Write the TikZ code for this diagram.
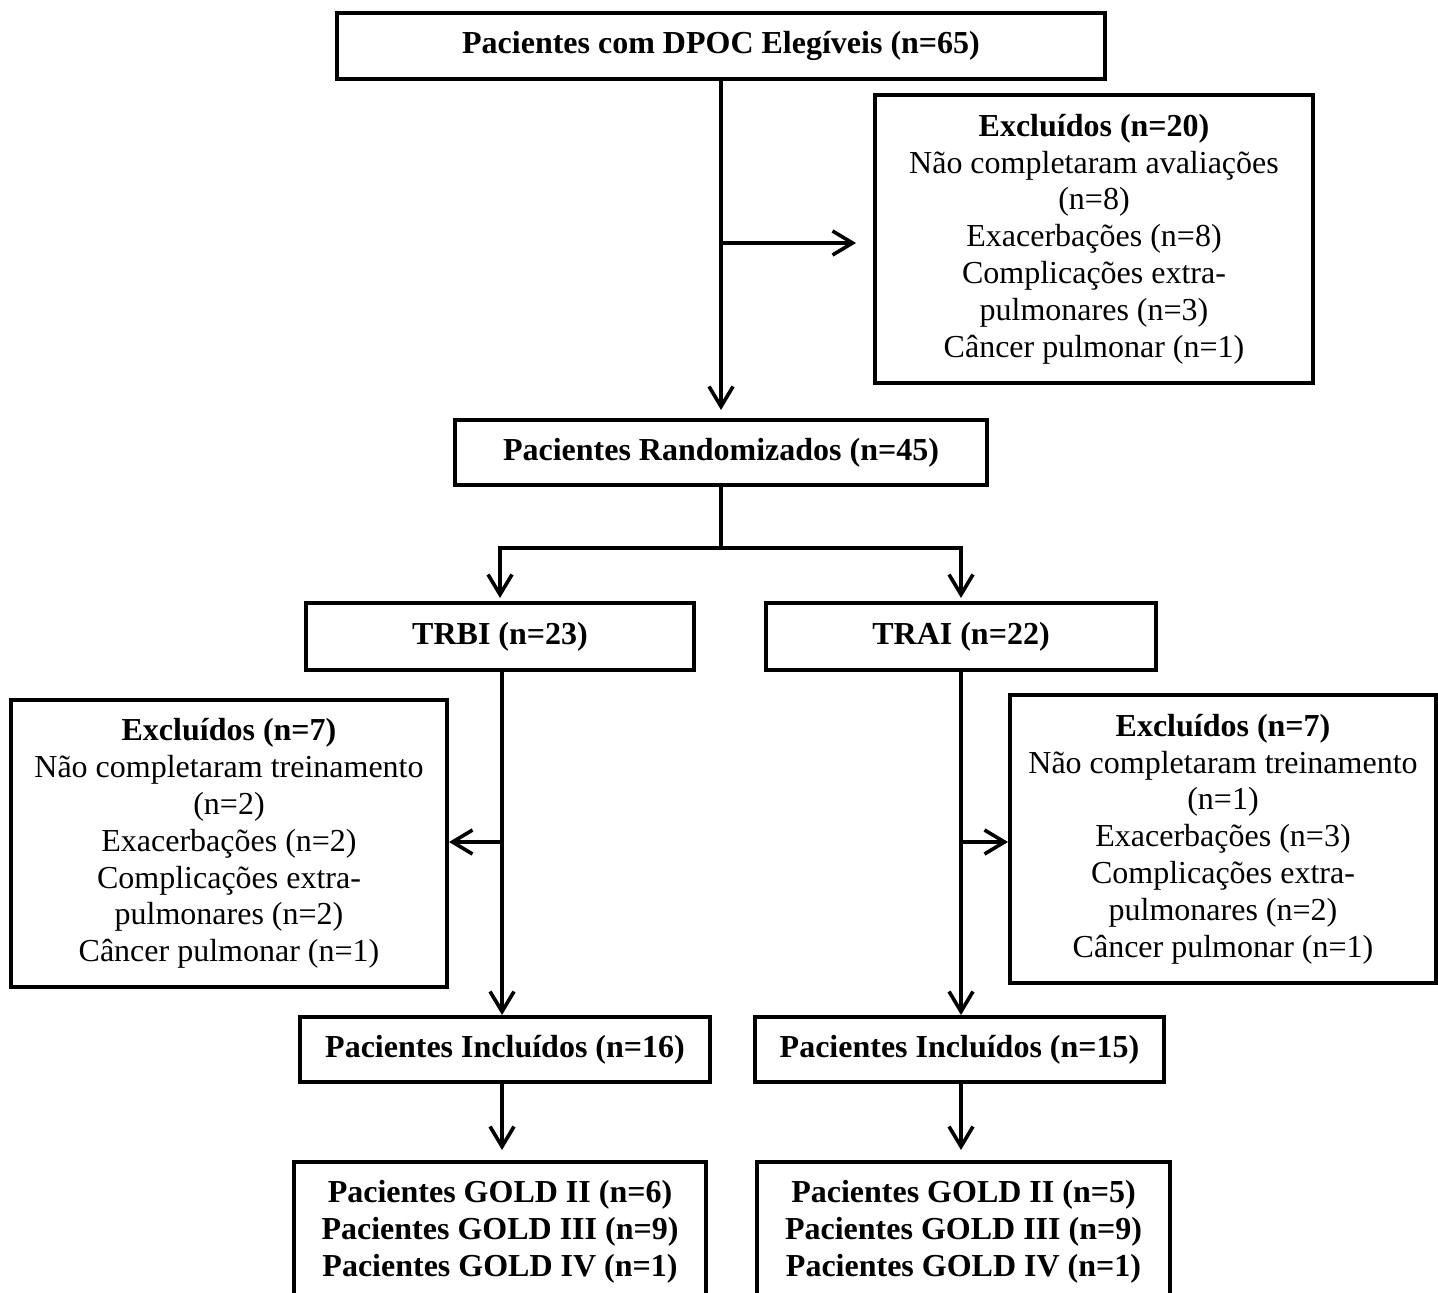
\documentclass[tikz,border=0pt]{standalone}
\usepackage{fontspec}
\setmainfont{Liberation Serif}
\usetikzlibrary{arrows.meta}

\tikzset{
  box/.style={draw, line width=2pt, inner sep=0pt, align=center,
              font=\fontsize{16}{18.4}\selectfont},
  bbox/.style={box, font=\fontsize{16}{18.4}\selectfont\bfseries},
  arr/.style={line width=1.8pt, -{Straight Barb[length=10pt,width=12pt]}},
  link/.style={line width=1.8pt}
}

\begin{document}
\begin{tikzpicture}[x=0.5pt,y=-0.5pt]
  \useasboundingbox (0,0) rectangle (1438,1293);
  \clip (0,0) rectangle (1438,1293);

  % boxes
  \node[bbox, minimum width=384pt, minimum height=33pt] (top) at (721,46)
    {Pacientes com DPOC Elegíveis (n=65)};
  \node[box, minimum width=219pt, minimum height=144pt] (ex1) at (1094,239)
    {\textbf{Excluídos (n=20)}\\Não completaram avaliações\\(n=8)\\Exacerbações (n=8)\\Complicações extra-\\pulmonares (n=3)\\Câncer pulmonar (n=1)};
  \node[bbox, minimum width=266pt, minimum height=32.5pt] (rand) at (721,452.5)
    {Pacientes Randomizados (n=45)};
  \node[bbox, minimum width=194pt, minimum height=33.5pt] (trbi) at (500,636.5)
    {TRBI (n=23)};
  \node[bbox, minimum width=195pt, minimum height=33.5pt] (trai) at (961,636.5)
    {TRAI (n=22)};
  \node[box, minimum width=218pt, minimum height=143.5pt] (ex2) at (229,843.5)
    {\textbf{Excluídos (n=7)}\\Não completaram treinamento\\(n=2)\\Exacerbações (n=2)\\Complicações extra-\\pulmonares (n=2)\\Câncer pulmonar (n=1)};
  \node[box, minimum width=213pt, minimum height=144pt] (ex3) at (1223,839)
    {\textbf{Excluídos (n=7)}\\Não completaram treinamento\\(n=1)\\Exacerbações (n=3)\\Complicações extra-\\pulmonares (n=2)\\Câncer pulmonar (n=1)};
  \node[bbox, minimum width=205pt, minimum height=32.5pt] (inc1) at (505,1049.5)
    {Pacientes Incluídos (n=16)};
  \node[bbox, minimum width=204.5pt, minimum height=32.5pt] (inc2) at (959.5,1049.5)
    {Pacientes Incluídos (n=15)};
  \node[bbox, minimum width=206pt, minimum height=70pt] (gold1) at (500,1232)
    {Pacientes GOLD II (n=6)\\Pacientes GOLD III (n=9)\\Pacientes GOLD IV (n=1)};
  \node[bbox, minimum width=206.5pt, minimum height=70pt] (gold2) at (963.5,1232)
    {Pacientes GOLD II (n=5)\\Pacientes GOLD III (n=9)\\Pacientes GOLD IV (n=1)};

  % junction points
  \coordinate (j1) at (721,243);
  \coordinate (j2) at (721,548);
  \coordinate (j3) at (502,842);
  \coordinate (j4) at (961,842);

  % connectors
  \draw[arr, shorten >=4pt] (top.south -| j1) -- (rand.north -| j1);
  \draw[arr, shorten >=8.5pt] (j1) -- (j1 -| ex1.west);
  \draw[link] (rand.south -| j2) -- (j2);
  \draw[arr, shorten >=1.5pt] (j2) -| (trbi.north);
  \draw[arr, shorten >=1.5pt] (j2) -| (trai.north);
  \draw[arr] (trbi.south -| j3) -- (inc1.north -| j3);
  \draw[arr] (trai.south -| j4) -- (inc2.north -| j4);
  \draw[arr] (j3) -- (j3 -| ex2.east);
  \draw[arr] (j4) -- (j4 -| ex3.west);
  \draw[arr, shorten >=5pt] (inc1.south -| j3) -- (gold1.north -| j3);
  \draw[arr, shorten >=5pt] (inc2.south -| j4) -- (gold2.north -| j4);
\end{tikzpicture}
\end{document}
